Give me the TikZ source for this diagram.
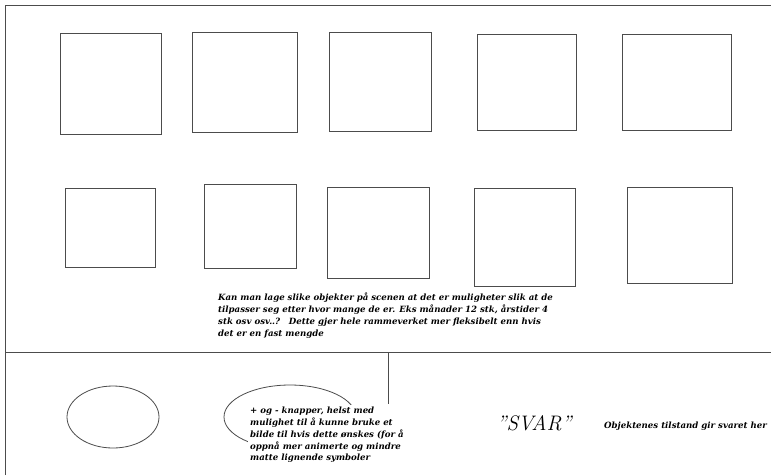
\documentclass[tikz,border=0pt]{standalone}
\usepackage{fontspec}
\usetikzlibrary{shapes.geometric}
\newfontfamily\handfont{DejaVu Serif}
\begin{document}
\begin{tikzpicture}[x=1pt,y=-1pt,
  line/.style={draw=black!70, line width=0.8pt},
  box/.style={line, rectangle, inner sep=0pt, outer sep=0pt},
  oval/.style={line, ellipse, inner sep=0pt, outer sep=0pt},
  hand/.style={font=\handfont\bfseries\itshape\fontsize{8.6}{11.8}\selectfont, align=left, inner sep=0pt, anchor=north west}]
\useasboundingbox[fill=white] (0,0) rectangle (771,475);
% frame
\coordinate (fbl) at (5,475);
\coordinate (ftl) at (5,5);
\coordinate (ftr) at (771,5);
\coordinate (hl) at (5,352);
\coordinate (hr) at (771,352);
\coordinate (vt) at (388,352);
\coordinate (vb) at (388,404);
\draw[line] (fbl) -- (ftl) -- (ftr);
\draw[line] (hl) -- (hr);
\draw[line] (vt) -- (vb);
% top row
\node[box, minimum width=101pt, minimum height=101pt] (t1) at (110.5,83.5) {};
\node[box, minimum width=105pt, minimum height=100pt] (t2) at (244.5,82) {};
\node[box, minimum width=102pt, minimum height=99pt] (t3) at (380,81.5) {};
\node[box, minimum width=99pt, minimum height=96pt] (t4) at (526.5,82) {};
\node[box, minimum width=109pt, minimum height=96pt] (t5) at (676.5,82) {};
% bottom row
\node[box, minimum width=90pt, minimum height=79pt] (b1) at (110,227.5) {};
\node[box, minimum width=92pt, minimum height=84pt] (b2) at (250,226) {};
\node[box, minimum width=102pt, minimum height=91pt] (b3) at (378,232.5) {};
\node[box, minimum width=101pt, minimum height=98pt] (b4) at (524.5,237) {};
\node[box, minimum width=105pt, minimum height=96pt] (b5) at (679.5,235) {};
% question text
\node[hand] (q) at (218,293) {Kan man lage slike objekter på scenen at det er muligheter slik at de\\
tilpasser seg etter hvor mange de er. Eks månader 12 stk, årstider 4\\
stk osv osv..?\quad Dette gjer hele rammeverket mer fleksibelt enn hvis\\
det er en fast mengde};
% ellipses
\node[oval, minimum width=92pt, minimum height=62pt] (e1) at (113,417) {};
\node[oval, minimum width=132pt, minimum height=64pt] (e2) at (290,417) {};
\node[hand, fill=white, inner xsep=2pt, inner ysep=2pt] (k) at (248,405) {+ og - knapper, helst med\\
mulighet til å kunne bruke et\\
bilde til hvis dette ønskes (for å\\
oppnå mer animerte og mindre\\
matte lignende symboler};
% answer
\node[font=\itshape\fontsize{21}{24}\selectfont, inner sep=0pt] (svar) at (534,423) {\char34 SVAR\char34};
\node[hand, anchor=west] (obj) at (604,426) {Objektenes tilstand gir svaret her};
\end{tikzpicture}
\end{document}
